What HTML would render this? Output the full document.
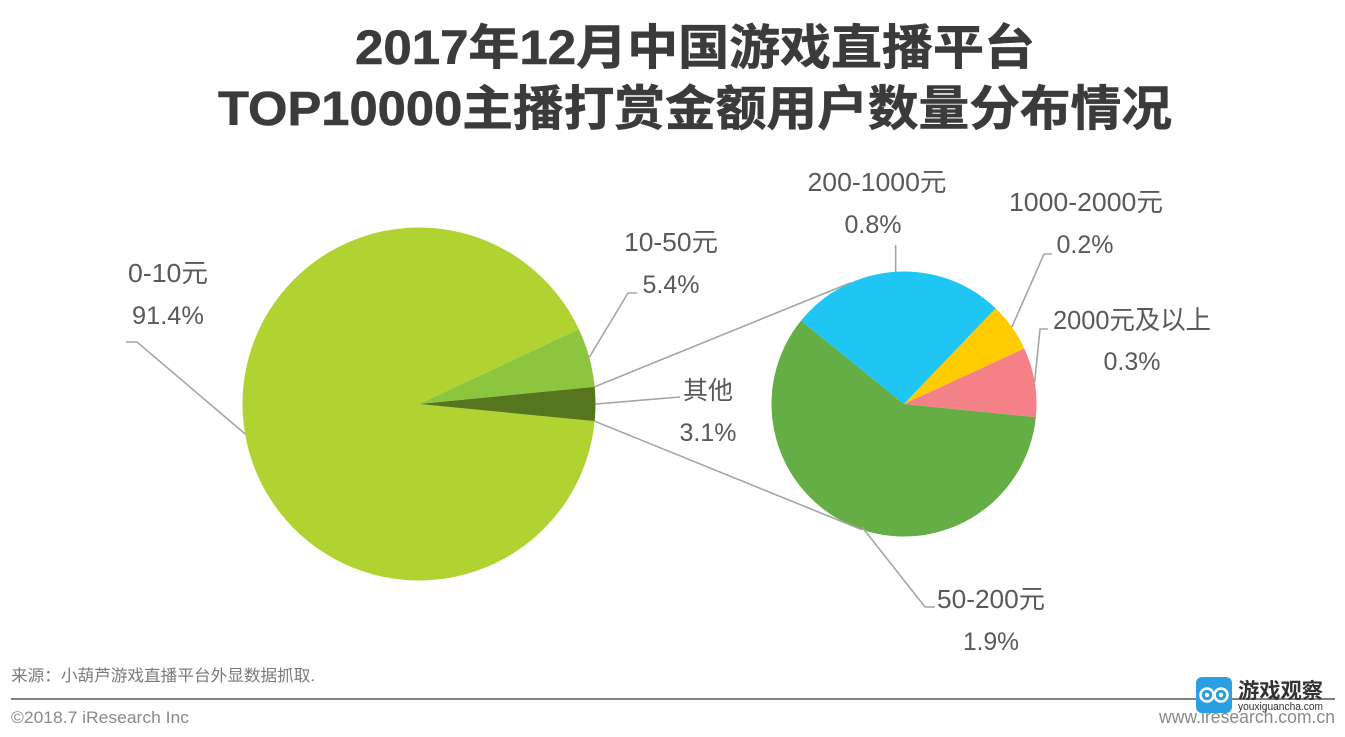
<!DOCTYPE html>
<html lang="zh">
<head>
<meta charset="utf-8">
<title>2017年12月中国游戏直播平台TOP10000主播打赏金额用户数量分布情况</title>
<style>
html,body{margin:0;padding:0;background:#fff;}
body{width:1345px;height:737px;overflow:hidden;position:relative;}
svg{display:block;position:absolute;left:0;top:0;}
text{font-family:"Liberation Sans","Noto Sans CJK SC",sans-serif;}
</style>
</head>
<body>
<svg id="chart" width="1345" height="737" viewBox="0 0 1345 737" xmlns="http://www.w3.org/2000/svg">
  <text x="695" y="64" text-anchor="middle" font-size="48" font-weight="700" fill="#3b3b3b" stroke="#3b3b3b" stroke-width="0.6" textLength="680" lengthAdjust="spacingAndGlyphs">2017年12月中国游戏直播平台</text>
  <text x="695" y="125" text-anchor="middle" font-size="48" font-weight="700" fill="#3b3b3b" stroke="#3b3b3b" stroke-width="0.6" textLength="954" lengthAdjust="spacingAndGlyphs">TOP10000主播打赏金额用户数量分布情况</text>
  <g id="marks"></g>
  <text x="11" y="681" font-size="16" fill="#7a7a7a" textLength="304" lengthAdjust="spacingAndGlyphs">来源：小葫芦游戏直播平台外显数据抓取.</text>
  <rect x="11" y="698" width="1324" height="2" fill="#808080"></rect>
  <text x="11" y="723" font-size="17" fill="#8a8a8a" textLength="178" lengthAdjust="spacingAndGlyphs">©2018.7 iResearch Inc</text>
  <text x="1335" y="723" text-anchor="end" font-size="18" fill="#8a8a8a" textLength="176" lengthAdjust="spacingAndGlyphs">www.iresearch.com.cn</text>
  <g>
    <rect x="1196" y="677" width="36" height="36" rx="6" fill="#2a9fe2"></rect>
    <circle cx="1207" cy="695" r="6.5" fill="#2a9fe2" stroke="#fff" stroke-width="2.5"></circle>
    <circle cx="1221" cy="695" r="6.5" fill="#2a9fe2" stroke="#fff" stroke-width="2.5"></circle>
    <circle cx="1207" cy="695" r="2.2" fill="#fff"></circle>
    <circle cx="1221" cy="695" r="2.2" fill="#fff"></circle>
    <text x="1238" y="698" font-size="21" font-weight="700" fill="#333" textLength="85" lengthAdjust="spacingAndGlyphs">游戏观察</text>
    <text x="1238" y="710" font-size="11" fill="#333" textLength="85" lengthAdjust="spacingAndGlyphs">youxiguancha.com</text>
  </g>
</svg>
<script>
// Main pie data
const mainCategories = ["0-10元", "10-50元", "其他"];
const mainValues = [91.4, 5.4, 3.1];
const mainColors = ["#b0d332", "#8cc63e", "#56751f"];
// Breakdown pie data (the "其他" share split further)
const subCategories = ["50-200元", "200-1000元", "1000-2000元", "2000元及以上"];
const subValues = [1.89, 0.84, 0.19, 0.27];
const subColors = ["#64ae45", "#1fc6f4", "#ffcc00", "#f58188"];

const NS = "http://www.w3.org/2000/svg";
const marks = document.getElementById("marks");
const mainPie = { cx: 419, cy: 404, r: 176.5 };
const subPie = { cx: 904, cy: 404, r: 132.5 };
const LEADER = "#a6a6a6";

function sum(a) { return a.reduce(function (s, v) { return s + v; }, 0); }
function pointAt(pie, deg, extra) {
  const rad = deg * Math.PI / 180;
  const r = pie.r + (extra || 0);
  return [pie.cx + r * Math.cos(rad), pie.cy + r * Math.sin(rad)];
}
// Angle layout: clockwise degrees, 0 = 3 o'clock
function slices(values, startDeg) {
  const total = sum(values);
  let a = startDeg;
  return values.map(function (v) {
    const sweep = v / total * 360;
    const s = { start: a, end: a + sweep, mid: a + sweep / 2, sweep: sweep };
    a += sweep;
    return s;
  });
}
function drawSlice(pie, s, color, name) {
  const p0 = pointAt(pie, s.start);
  const p1 = pointAt(pie, s.end);
  const large = s.sweep > 180 ? 1 : 0;
  const el = document.createElementNS(NS, "path");
  el.setAttribute("d", "M" + pie.cx + " " + pie.cy + "L" + p0[0] + " " + p0[1] + "A" + pie.r + " " + pie.r + " 0 " + large + " 1 " + p1[0] + " " + p1[1] + "Z");
  el.setAttribute("fill", color);
  
  
  marks.appendChild(el);
}
function drawLine(points, name) {
  const el = document.createElementNS(NS, "polyline");
  el.setAttribute("points", points.map(function (p) { return p.join(","); }).join(" "));
  el.setAttribute("fill", "none");
  el.setAttribute("stroke", LEADER);
  el.setAttribute("stroke-width", "1.6");
  
  
  marks.appendChild(el);
}
function drawLabel(cx, y, str, name, size, width) {
  const el = document.createElementNS(NS, "text");
  el.setAttribute("x", cx);
  el.setAttribute("y", y);
  el.setAttribute("text-anchor", "middle");
  el.setAttribute("font-size", size);
  el.setAttribute("fill", "#595959");
  if (width) {
    el.setAttribute("textLength", width);
    el.setAttribute("lengthAdjust", "spacingAndGlyphs");
  }
  
  
  el.textContent = str;
  marks.appendChild(el);
}
function pct(v) { return v.toFixed(1) + "%"; }

// The last main slice is centred on 3 o'clock, facing the breakdown pie.
const mainSweepOther = mainValues[2] / sum(mainValues) * 360;
const mainSlices = slices(mainValues, mainSweepOther / 2);
const subSlices = slices(subValues, 5.7);

mainSlices.forEach(function (s, i) {
  drawSlice(mainPie, s, mainColors[i], "main-slice-" + (i + 1));
});
subSlices.forEach(function (s, i) {
  drawSlice(subPie, s, subColors[i], "breakdown-slice-" + (i + 1));
});

// Connector lines between the pies
const otherSlice = mainSlices[2];
drawLine([pointAt(mainPie, otherSlice.end), pointAt(subPie, 108.6)], "connector-lower");
drawLine([pointAt(mainPie, otherSlice.start), pointAt(subPie, -113.6)], "connector-upper");

// Leaders and label placement (layout only, anchored at slice mid-angles)
const mainA = mainSlices.map(function (s) { return pointAt(mainPie, s.mid); });
const subA = subSlices.map(function (s) { return pointAt(subPie, s.mid); });

drawLine([mainA[0], [137, 342], [126, 342]], "leader-0-10");
drawLine([mainA[1], [628, 293], [637, 293]], "leader-10-50");
drawLine([mainA[2], [680, 397]], "leader-other");
drawLine([[862, 527], [925, 607], [935, 607]], "leader-50-200");
drawLine([subA[1], [subA[1][0], 245]], "leader-200-1000");
drawLine([subA[2], [1044, 254], [1052, 254]], "leader-1000-2000");
drawLine([subA[3], [1040, 329], [1048, 329]], "leader-2000-plus");

drawLabel(168, 282, mainCategories[0], "label-0-10-name", 26, 80);
drawLabel(168, 324, pct(mainValues[0]), "label-0-10-value", 25, 72);
drawLabel(671, 251, mainCategories[1], "label-10-50-name", 26, 94);
drawLabel(671, 293, pct(mainValues[1]), "label-10-50-value", 25, 57);
drawLabel(708, 399, mainCategories[2], "label-other-name", 25, 50);
drawLabel(708, 441, pct(mainValues[2]), "label-other-value", 25, 57);
drawLabel(991, 608, subCategories[0], "label-50-200-name", 26, 108);
drawLabel(991, 650, pct(subValues[0]), "label-50-200-value", 25, 56);
drawLabel(877, 191, subCategories[1], "label-200-1000-name", 26, 139);
drawLabel(873, 233, pct(subValues[1]), "label-200-1000-value", 25, 57);
drawLabel(1086, 211, subCategories[2], "label-1000-2000-name", 26, 154);
drawLabel(1085, 253, pct(subValues[2]), "label-1000-2000-value", 25, 57);
drawLabel(1132, 329, subCategories[3], "label-2000-plus-name", 26, 158);
drawLabel(1132, 370, pct(subValues[3]), "label-2000-plus-value", 25, 57);
</script>
</body>
</html>
